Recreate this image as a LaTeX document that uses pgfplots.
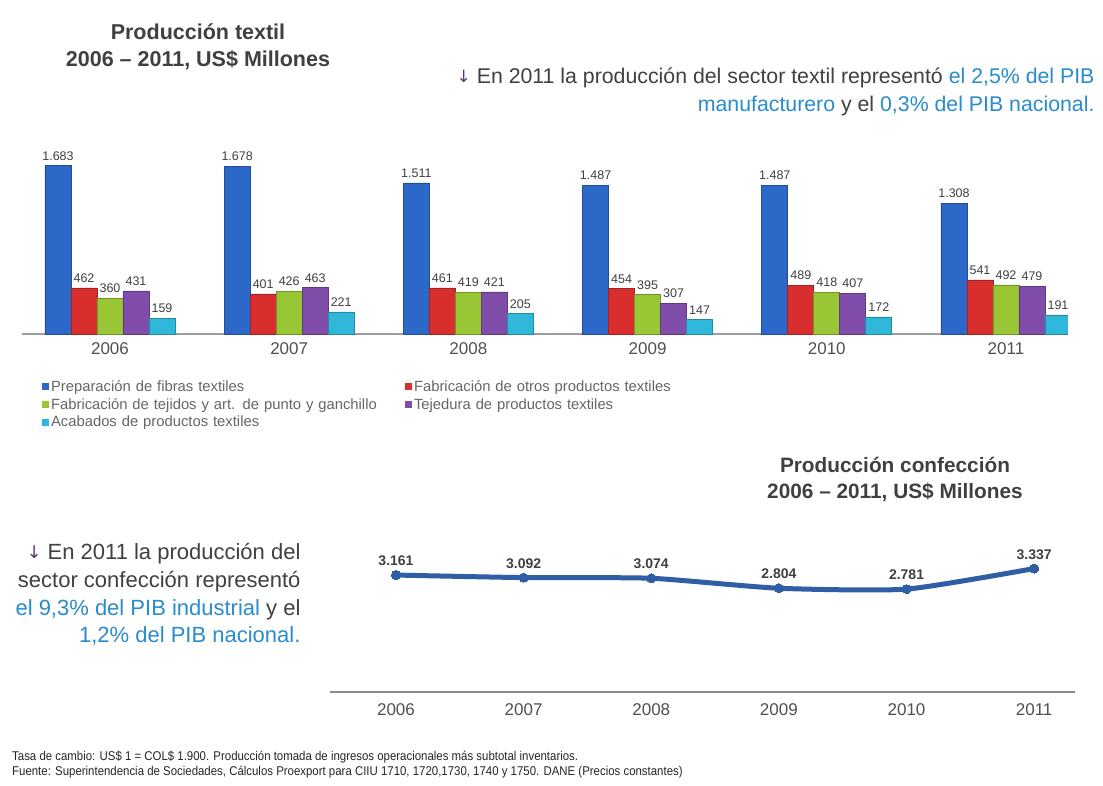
\documentclass[border=0pt]{standalone}
\usepackage{pgfplots}
\pgfplotsset{compat=1.18}
\usepackage{fontspec}
\setmainfont{Liberation Sans}
\newfontfamily\dejavu{DejaVu Sans}
\definecolor{cBlue}{RGB}{44,104,200}
\definecolor{cRed}{RGB}{216,46,46}
\definecolor{cGreen}{RGB}{152,198,52}
\definecolor{cPurple}{RGB}{128,78,170}
\definecolor{cCyan}{RGB}{48,184,218}
\definecolor{cLine}{RGB}{47,94,165}
\definecolor{txt}{RGB}{64,64,64}
\definecolor{btxt}{RGB}{40,140,205}
\definecolor{tick}{RGB}{80,80,80}
\newcommand{\arr}{{\dejavu\color{cPurple!70!black}\raisebox{0.05em}{\scalebox{0.8}{↓}}}}
\begin{document}
\begin{tikzpicture}
\path[fill=white] (0pt,0pt) rectangle (1103pt,-785pt);

% Titles and texts
\node[align=center, font=\fontsize{21.5}{27}\selectfont\bfseries, text=txt] at (198pt,-46.5pt)
  {Producción textil\\2006 – 2011, US\$ Millones};
\node[align=right, anchor=east, font=\fontsize{21.3}{28}\selectfont, text=txt] at (1098pt,-92pt)
  {\arr\ En 2011 la producción del sector textil representó \textcolor{btxt}{el 2,5\% del PIB}\\
   \textcolor{btxt}{manufacturero} y el \textcolor{btxt}{0,3\% del PIB nacional.}};
\node[align=center, font=\fontsize{20.8}{26}\selectfont\bfseries, text=txt] at (895pt,-479pt)
  {Producción confección\\2006 – 2011, US\$ Millones};
\node[align=right, anchor=east, font=\fontsize{22}{27.7}\selectfont, text=txt] at (304pt,-594.5pt)
  {\arr\ En 2011 la producción del\\sector confección representó\\
   \textcolor{btxt}{el 9,3\% del PIB industrial} y el\\\textcolor{btxt}{1,2\% del PIB nacional.}};
\node[align=left, anchor=west, font=\fontsize{12.7}{15}\selectfont, text=black!85, inner sep=0pt] at (12pt,-764.5pt)
  {\scalebox{0.9}[1]{Tasa de cambio: US\$ 1 = COL\$ 1.900. Producción tomada de ingresos operacionales más subtotal inventarios.}\\
   \scalebox{0.9}[1]{Fuente: Superintendencia de Sociedades, Cálculos Proexport para CIIU 1710, 1720,1730, 1740 y 1750. DANE (Precios constantes)}};

% Bar chart
\begin{axis}[
  at={(22pt,-334pt)}, anchor=south west,
  scale only axis, width=1046pt, height=180pt,
  xmin=-0.491, xmax=5.346, ymin=0, ymax=1800,
  axis x line=bottom, axis y line=none,
  x axis line style={draw=black!38, line width=1.6pt, -},
  xtick={0,...,5}, xticklabels={2006,2007,2008,2009,2010,2011},
  major tick length=0pt,
  tick label style={font=\fontsize{17}{20}\selectfont, text=tick},
  xticklabel style={yshift=-5pt},
  /pgf/number format/assume math mode=true,
  /pgf/number format/.cd, 1000 sep={.}, /pgfplots/.cd,
  ybar=0pt, bar width=26pt,
  nodes near coords,
  every node near coord/.append style={font=\fontsize{12.5}{14}\selectfont, text=txt, inner sep=2pt, yshift=3pt},
  legend style={at={(axis description cs:0.019,-0.245)}, anchor=north west,
    draw=none, fill=none, inner sep=0pt, row sep=1.5pt,
    font=\fontsize{14.8}{17}\selectfont, text=black!60,
    nodes={text width=352pt, inner sep=2pt, align=left}},
  legend columns=2, legend cell align=left,
  legend image code/.code={\path[#1, draw=none] (0pt,-3.5pt) rectangle (7pt,3.5pt);},
]
\addplot[draw=cBlue!75!black, line width=0.6pt, fill=cBlue]
  coordinates {(0,1683) (1,1678) (2,1511) (3,1487) (4,1487) (5,1308)};
\addplot[draw=cRed!75!black, line width=0.6pt, fill=cRed]
  coordinates {(0,462) (1,401) (2,461) (3,454) (4,489) (5,541)};
\addplot[draw=cGreen!75!black, line width=0.6pt, fill=cGreen]
  coordinates {(0,360) (1,426) (2,419) (3,395) (4,418) (5,492)};
\addplot[draw=cPurple!75!black, line width=0.6pt, fill=cPurple]
  coordinates {(0,431) (1,463) (2,421) (3,307) (4,407) (5,479)};
\addplot[draw=cCyan!75!black, line width=0.6pt, fill=cCyan]
  coordinates {(0,159) (1,221) (2,205) (3,147) (4,172) (5,191)};
\legend{Preparación de fibras textiles, Fabricación de otros productos textiles,
  Fabricación de tejidos y art. de punto y ganchillo, Tejedura de productos textiles,
  Acabados de productos textiles}
\end{axis}

% Line chart
\begin{axis}[
  at={(330pt,-692pt)}, anchor=south west,
  scale only axis, width=745pt, height=136.9pt,
  xmin=-0.517, xmax=5.32, ymin=0, ymax=3700,
  axis x line=bottom, axis y line=none,
  x axis line style={draw=black!45, line width=1.2pt, -},
  xtick={0,...,5}, xticklabels={2006,2007,2008,2009,2010,2011},
  major tick length=0pt,
  tick label style={font=\fontsize{17}{20}\selectfont, text=tick},
  xticklabel style={yshift=-8pt},
  /pgf/number format/assume math mode=true,
  /pgf/number format/.cd, 1000 sep={.}, /pgfplots/.cd,
  nodes near coords,
  every node near coord/.append style={font=\fontsize{14}{16}\selectfont\bfseries, text=txt, yshift=6pt},
]
\addplot[cLine, line width=5pt, smooth, tension=0.35, mark=*, mark size=4.5pt,
  mark options={fill=cLine, draw=cLine, line width=0pt}]
  coordinates {(0,3161) (1,3092) (2,3074) (3,2804) (4,2781) (5,3337)};
\end{axis}
\end{tikzpicture}
\end{document}
